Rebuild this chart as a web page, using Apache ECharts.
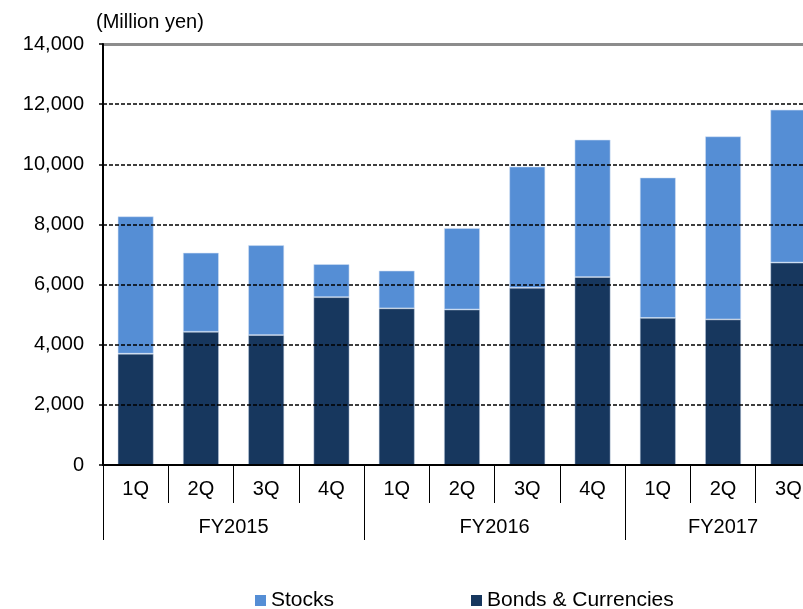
<!DOCTYPE html>
<html>
<head>
<meta charset="utf-8">
<script src="https://cdn.jsdelivr.net/npm/echarts@6/dist/echarts.min.js"></script>
<style>
  html, body { margin: 0; padding: 0; background: #fff; }
  #chart { width: 803px; height: 609px; }
</style>
</head>
<body>
<div id="chart"></div>
<script>
// Quarterly balances (million yen), FY2015 1Q through FY2017 3Q
var quarters = ['1Q', '2Q', '3Q', '4Q', '1Q', '2Q', '3Q', '4Q', '1Q', '2Q', '3Q'];
var fiscalYears = ['FY2015', 'FY2016', 'FY2017'];
var quartersPerYear = [4, 4, 3];
var bondsCurrencies = [3700, 4430, 4320, 5580, 5210, 5170, 5890, 6250, 4890, 4840, 6730];
var stocks = [4570, 2630, 2990, 1100, 1255, 2710, 4035, 4570, 4670, 6090, 5085];
var yTicks = { min: 0, max: 14000, step: 2000 };

// Positions of the fiscal-year group boundaries and label centres on a 0..n scale
var groupEdges = [];
var groupCentres = [];
var acc = 0;
quartersPerYear.forEach(function (n) {
  groupEdges.push(acc);
  groupCentres.push(acc + n / 2);
  acc += n;
});

var FONT = '"Liberation Sans", Arial, sans-serif';
var chart = echarts.init(document.getElementById('chart'), null, { renderer: 'canvas' });

chart.setOption({
  animation: false,
  backgroundColor: '#ffffff',
  textStyle: { fontFamily: FONT, color: '#000' },
  title: {
    text: '(Million yen)',
    left: 96,
    top: 12,
    padding: 0,
    textStyle: { fontFamily: FONT, fontSize: 20, fontWeight: 'normal', color: '#000' }
  },
  legend: {
    data: ['Stocks', 'Bonds & Currencies'],
    left: 255,
    top: 590,
    padding: 0,
    itemWidth: 11,
    itemHeight: 11,
    itemGap: 137,
    itemStyle: { borderWidth: 0 },
    icon: 'rect',
    textStyle: { fontFamily: FONT, fontSize: 21, color: '#000' }
  },
  // the plot area runs past the right edge of the canvas
  grid: {
    left: 103, top: 44, width: 718, height: 421,
    containLabel: false,
    outerBoundsMode: 'none'
  },
  xAxis: [
    {
      type: 'category',
      data: quarters,
      position: 'bottom',
      boundaryGap: true,
      axisLine: { show: true, lineStyle: { color: '#000', width: 2 } },
      axisTick: { show: true, interval: 0, length: 38, lineStyle: { color: '#000', width: 1 } },
      axisLabel: { interval: 0, margin: 14, fontFamily: FONT, fontSize: 20, color: '#000' },
      splitLine: { show: false },
      z: 5
    },
    {
      type: 'value',
      position: 'bottom',
      min: 0,
      max: quarters.length,
      axisLine: { show: false },
      splitLine: { show: false },
      axisTick: {
        show: true,
        customValues: groupEdges,
        length: 75,
        lineStyle: { color: '#000', width: 1 }
      },
      axisLabel: {
        show: true,
        customValues: groupCentres,
        margin: 52,
        fontFamily: FONT,
        fontSize: 20,
        color: '#000',
        formatter: function (v) {
          var i = groupCentres.indexOf(v);
          return i >= 0 ? fiscalYears[i] : '';
        }
      }
    }
  ],
  yAxis: {
    type: 'value',
    min: yTicks.min,
    max: yTicks.max,
    interval: yTicks.step,
    axisLine: { show: true, lineStyle: { color: '#000', width: 2 } },
    axisTick: { show: true, length: 4, inside: false, lineStyle: { color: '#000', width: 1.5 } },
    axisLabel: {
      margin: 19,
      fontFamily: FONT,
      fontSize: 20,
      color: '#000',
      formatter: function (v) { return v.toLocaleString('en-US'); }
    },
    splitLine: { show: true, lineStyle: { color: '#000', width: 1.5, type: [4, 2] } },
    z: 5
  },
  series: [
    {
      name: 'Bonds & Currencies',
      type: 'bar',
      stack: 'total',
      data: bondsCurrencies,
      barWidth: 36,
      itemStyle: { color: '#17375e', borderColor: 'rgba(190,205,225,0.6)', borderWidth: 0.8 },
      markLine: {
        silent: true,
        symbol: ['none', 'none'],
        label: { show: false },
        lineStyle: { color: '#8c8c8c', width: 3, type: 'solid' },
        data: [{ yAxis: yTicks.max }]
      }
    },
    {
      name: 'Stocks',
      type: 'bar',
      stack: 'total',
      data: stocks,
      barWidth: 36,
      itemStyle: { color: '#558ed5', borderColor: 'rgba(210,225,245,0.7)', borderWidth: 0.8 }
    }
  ]
});
</script>
</body>
</html>
